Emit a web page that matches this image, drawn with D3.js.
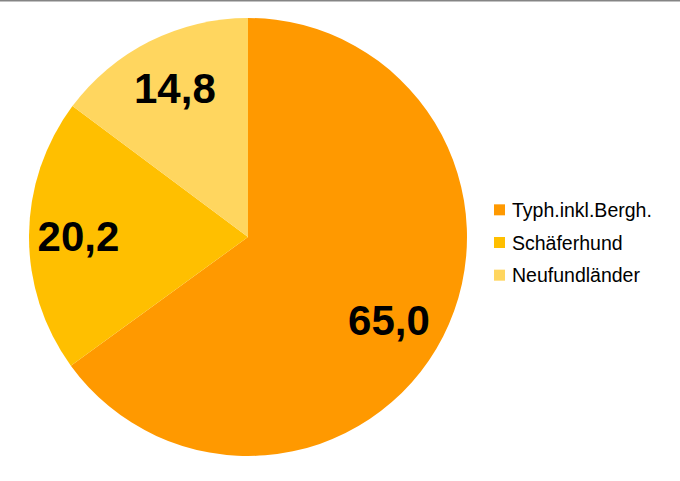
<!DOCTYPE html>
<html>
<head>
<meta charset="utf-8">
<script src="https://cdn.jsdelivr.net/npm/d3@7/dist/d3.min.js"></script>
<style>
  html, body { margin: 0; padding: 0; background: #fff; }
  svg { display: block; }
</style>
</head>
<body>
<svg id="chart" width="680" height="481"></svg>
<script>
const categories = ["Typh.inkl.Bergh.", "Schäferhund", "Neufundländer"];
const values = [65.0, 20.2, 14.8];
const valueLabels = ["65,0", "20,2", "14,8"];
const colors = ["#FF9900", "#FFBF00", "#FFD65F"];

const svg = d3.select("#chart");
const W = 680, H = 481;
const cx = 248, cy = 237, R = 219;

svg.append("rect").attr("x", 0).attr("y", 0).attr("width", W).attr("height", 1.5).attr("fill", "#858585");

const pie = d3.pie().sort(null).value(d => d)(values);
const arc = d3.arc().innerRadius(0).outerRadius(R);

const g = svg.append("g").attr("transform", `translate(${cx},${cy})`);
g.selectAll("path.slice").data(pie).enter().append("path")
  .attr("class", "slice")
  .attr("d", arc)
  .attr("fill", (d, i) => colors[i]);

// label placement: radius fraction and small angular nudge (degrees) per slice
const labelRadius = [0.747, 0.774, 0.758];
const labelNudge = [3.5, 0, 0.5];
g.selectAll("text.val").data(pie).enter().append("text")
  .attr("class", "val")
  .attr("transform", (d, i) => {
    const a = (d.startAngle + d.endAngle) / 2 + labelNudge[i] * Math.PI / 180;
    const r = R * labelRadius[i];
    return `translate(${r * Math.sin(a)},${-r * Math.cos(a)})`;
  })
  .attr("text-anchor", "middle")
  .attr("dy", "0.36em")
  .attr("font-family", "'Liberation Sans', Arial, sans-serif")
  .attr("font-weight", "bold")
  .attr("font-size", 42)
  .attr("fill", "#000")
  .text((d, i) => valueLabels[i]);

// legend
const legY = d3.scaleBand().domain(categories).range([194, 292]).padding(0);
const leg = svg.append("g");
categories.forEach((c, i) => {
  const y = legY(c) + legY.bandwidth() / 2;
  leg.append("rect").attr("x", 494).attr("y", y - 6).attr("width", 11).attr("height", 11).attr("fill", colors[i]);
  leg.append("text").attr("x", 512).attr("y", y + 6.5)
    .attr("font-family", "'Liberation Sans', Arial, sans-serif")
    .attr("font-size", 19.5)
    .attr("fill", "#000")
    .text(c);
});
</script>
</body>
</html>
